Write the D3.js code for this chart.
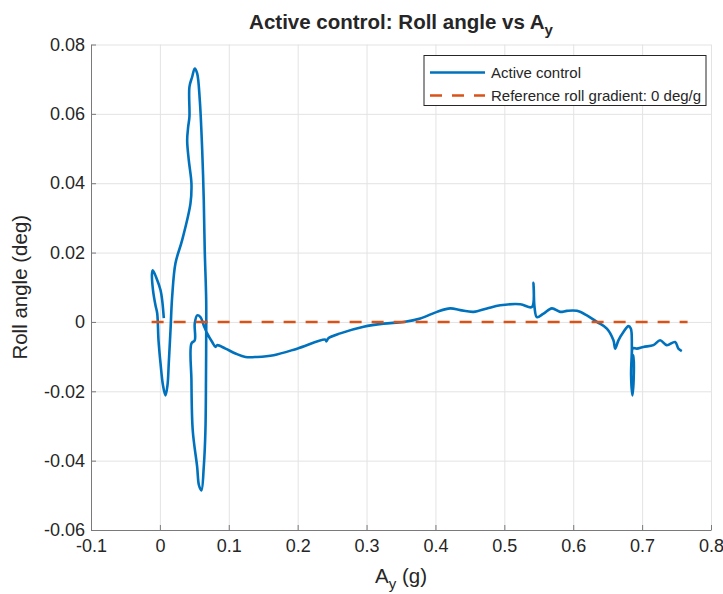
<!DOCTYPE html>
<html>
<head>
<meta charset="utf-8">
<script src="https://cdn.jsdelivr.net/npm/d3@7"></script>
<style>
  body { margin: 0; background: #fff; }
  text { font-family: "Liberation Sans", Arial, sans-serif; fill: #262626; }
</style>
</head>
<body>
<script>
// lateral acceleration (g) and roll angle (deg) along the manoeuvre
const ay = [
  0.0057, 0.0033, 0.0009, -0.0049, -0.0103, -0.0115, -0.0100, -0.0064, -0.0039, -0.0020,
  0.0009, 0.0045, 0.0081, 0.0110, 0.0129, 0.0154, 0.0178, 0.0226, 0.0323, 0.0444,
  0.0458, 0.0419, 0.0396, 0.0411, 0.0429, 0.0429, 0.0469, 0.0506, 0.0541, 0.0579,
  0.0614, 0.0637, 0.0651, 0.0672, 0.0672, 0.0669, 0.0661, 0.0637, 0.0603, 0.0567,
  0.0541, 0.0477, 0.0458, 0.0458, 0.0506, 0.0506, 0.0541, 0.0589, 0.0637, 0.0686,
  0.0759, 0.0807, 0.0831, 0.0952, 0.1097, 0.1242, 0.1411, 0.1652, 0.1992, 0.2402,
  0.2417, 0.2446, 0.2619, 0.2958, 0.3248, 0.3538, 0.3780, 0.4022, 0.4215, 0.4360,
  0.4553, 0.4748, 0.4941, 0.5231, 0.5400, 0.5424, 0.5438, 0.5473, 0.5569, 0.5690,
  0.5811, 0.5908, 0.6053, 0.6198, 0.6343, 0.6488, 0.6584, 0.6609, 0.6656, 0.6729,
  0.6801, 0.6836, 0.6851, 0.6840, 0.6859, 0.6877, 0.6874, 0.6858, 0.6865, 0.6924,
  0.7019, 0.7164, 0.7261, 0.7358, 0.7479, 0.7527, 0.7576
];
const roll = [
  0.0011, 0.0063, 0.0092, 0.0126, 0.0149, 0.0138, 0.0092, 0.0048, 0.0025, -0.0053,
  -0.0119, -0.0183, -0.0212, -0.0183, -0.0119, -0.0024, 0.0072, 0.0169, 0.0236, 0.0342,
  0.0399, 0.0467, 0.0524, 0.0563, 0.0592, 0.0678, 0.0707, 0.0731, 0.0717, 0.0640,
  0.0496, 0.0351, 0.0207, 0.0063, -0.0053, -0.0168, -0.0313, -0.0418, -0.0486, -0.0471,
  -0.0418, -0.0313, -0.0168, -0.0062, -0.0053, -0.0005, 0.0019, 0.0014, -0.0010, -0.0033,
  -0.0058, -0.0072, -0.0067, -0.0077, -0.0091, -0.0101, -0.0101, -0.0096, -0.0077, -0.0051,
  -0.0056, -0.0047, -0.0033, -0.0014, -0.0005, 0.0000, 0.0010, 0.0029, 0.0039, 0.0034,
  0.0029, 0.0039, 0.0048, 0.0051, 0.0043, 0.0113, 0.0043, 0.0014, 0.0024, 0.0039,
  0.0029, 0.0032, 0.0032, 0.0019, 0.0000, -0.0019, -0.0053, -0.0077, -0.0053, -0.0029,
  -0.0012, -0.0019, -0.0072, -0.0154, -0.0212, -0.0168, -0.0096, -0.0111, -0.0076, -0.0077,
  -0.0072, -0.0067, -0.0053, -0.0067, -0.0058, -0.0077, -0.0084
];
// reference roll gradient line (0 deg/g)
const refAy = [-0.012, 0.766];
const refRoll = [0, 0];

const xTicks = [-0.1, 0, 0.1, 0.2, 0.3, 0.4, 0.5, 0.6, 0.7, 0.8];
const yTicks = [-0.06, -0.04, -0.02, 0, 0.02, 0.04, 0.06, 0.08];
const legendLabels = ['Active control', 'Reference roll gradient: 0 deg/g'];

const width = 723, height = 594;
const margin = { top: 44.5, right: 12, bottom: 64, left: 91 };
const font = '"Liberation Sans", Arial, sans-serif';

const svg = d3.create('svg')
    .attr('width', width)
    .attr('height', height)
    .attr('viewBox', [0, 0, width, height]);

const x = d3.scaleLinear()
    .domain([-0.1, 0.8])
    .range([margin.left, width - margin.right]);

const y = d3.scaleLinear()
    .domain([-0.06, 0.08])
    .range([height - margin.bottom, margin.top]);

// grid
svg.append('g')
    .attr('transform', `translate(0,${height - margin.bottom})`)
    .call(d3.axisBottom(x).tickValues(xTicks).tickSize(-(height - margin.top - margin.bottom)).tickFormat(''))
    .call(g => g.select('.domain').remove())
    .call(g => g.selectAll('line').attr('stroke', '#e3e3e3'));

svg.append('g')
    .attr('transform', `translate(${margin.left},0)`)
    .call(d3.axisLeft(y).tickValues(yTicks).tickSize(-(width - margin.left - margin.right)).tickFormat(''))
    .call(g => g.select('.domain').remove())
    .call(g => g.selectAll('line').attr('stroke', '#e3e3e3'));

// axes, ticks pointing inward, plain hyphen for negatives
const fmt = d => String(+d.toFixed(2));

const styleAxis = g => g
    .call(g => g.select('.domain').attr('stroke', '#7a7a7a'))
    .call(g => g.selectAll('.tick line').attr('stroke', '#7a7a7a'))
    .call(g => g.selectAll('text').attr('font-size', 18).attr('font-family', font).attr('fill', '#262626'));

svg.append('g')
    .attr('transform', `translate(0,${height - margin.bottom})`)
    .call(d3.axisBottom(x).tickValues(xTicks).tickSize(-5).tickSizeOuter(0).tickPadding(9).tickFormat(fmt))
    .call(styleAxis);

svg.append('g')
    .attr('transform', `translate(${margin.left},0)`)
    .call(d3.axisLeft(y).tickValues(yTicks).tickSize(-5).tickSizeOuter(0).tickPadding(6).tickFormat(fmt))
    .call(styleAxis);

// series
const points = ay.map((d, i) => [d, roll[i]]);
const line = d3.line()
    .x(d => x(d[0]))
    .y(d => y(d[1]))
    .curve(d3.curveCatmullRom.alpha(0.5));

svg.append('path')
    .datum(points)
    .attr('fill', 'none')
    .attr('stroke', '#0072BD')
    .attr('stroke-width', 2.6)
    .attr('stroke-linejoin', 'round')
    .attr('d', line);

svg.append('path')
    .datum(refAy.map((d, i) => [d, refRoll[i]]))
    .attr('fill', 'none')
    .attr('stroke', '#D95319')
    .attr('stroke-width', 2.6)
    .attr('stroke-dasharray', '12,10')
    .attr('d', d3.line().x(d => x(d[0])).y(d => y(d[1])));

// title and axis labels
const title = svg.append('text')
    .attr('x', (margin.left + width - margin.right) / 2)
    .attr('y', 29)
    .attr('text-anchor', 'middle')
    .attr('font-size', 20.5)
    .attr('font-weight', 'bold');
title.append('tspan').text('Active control: Roll angle vs A');
title.append('tspan').attr('dy', 6).attr('font-size', 15).text('y');

const xLabel = svg.append('text')
    .attr('x', (margin.left + width - margin.right) / 2)
    .attr('y', 583)
    .attr('text-anchor', 'middle')
    .attr('font-size', 20.5);
xLabel.append('tspan').text('A');
xLabel.append('tspan').attr('dy', 6).attr('font-size', 15).text('y');
xLabel.append('tspan').attr('dy', -6).text(' (g)');

svg.append('text')
    .attr('transform', `translate(27,${(margin.top + height - margin.bottom) / 2}) rotate(-90)`)
    .attr('text-anchor', 'middle')
    .attr('font-size', 20.5)
    .text('Roll angle (deg)');

// legend
const legend = svg.append('g').attr('transform', 'translate(424,55.5)');
legend.append('rect')
    .attr('width', 282)
    .attr('height', 50)
    .attr('fill', '#fff')
    .attr('stroke', '#262626')
    .attr('stroke-width', 1);

const legendStyles = [
  { stroke: '#0072BD', dash: null },
  { stroke: '#D95319', dash: '12,10' }
];
legendLabels.forEach((label, i) => {
  const row = legend.append('g').attr('transform', `translate(0,${17 + i * 23})`);
  row.append('line')
      .attr('x1', 6).attr('x2', 61)
      .attr('stroke', legendStyles[i].stroke)
      .attr('stroke-width', 2.6)
      .attr('stroke-dasharray', legendStyles[i].dash);
  row.append('text')
      .attr('x', 67)
      .attr('dy', '0.35em')
      .attr('font-size', 15)
      .text(label);
});

document.body.append(svg.node());
</script>
</body>
</html>
